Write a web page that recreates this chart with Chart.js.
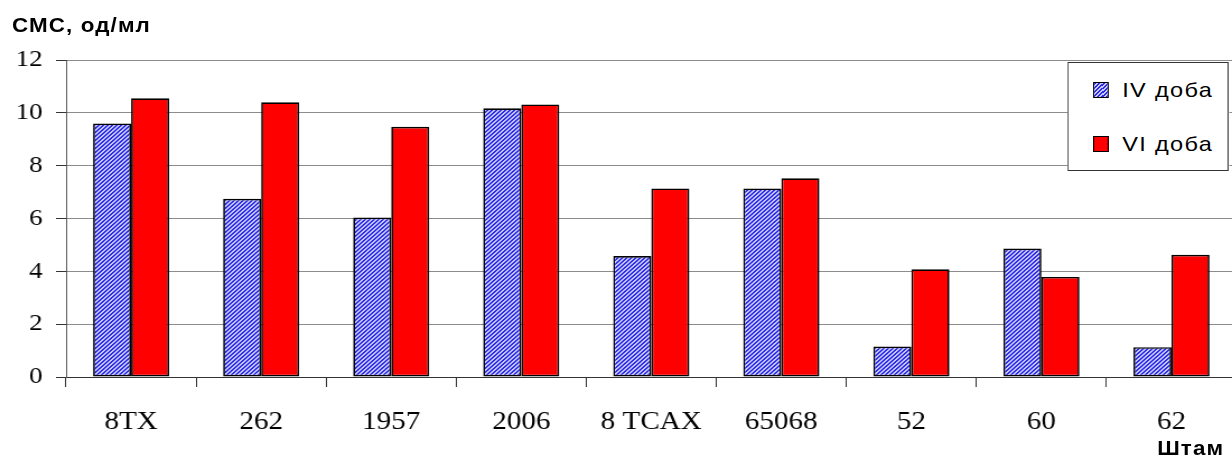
<!DOCTYPE html>
<html>
<head>
<meta charset="utf-8">
<script src="https://cdn.jsdelivr.net/npm/chart.js@4/dist/chart.umd.min.js"></script>
<style>
  html, body { margin:0; padding:0; background:#fff; overflow:hidden; width:1232px; height:457px; }
  #stage { position:absolute; left:0; top:0; width:1104px; height:457px; transform:scaleX(1.12); transform-origin:0 0; }
  #chart { position:absolute; left:0; top:0; }
  #ytitle { position:absolute; left:10.7px; top:15px; font-family:"Liberation Sans", Arial, sans-serif; font-weight:bold; font-size:20px; letter-spacing:1px; line-height:20px; white-space:nowrap; color:#000; }
  #xtitle { position:absolute; right:11px; top:438px; font-family:"Liberation Sans", Arial, sans-serif; font-weight:bold; font-size:20px; letter-spacing:1px; line-height:20px; white-space:nowrap; color:#000; }
  #legend { position:absolute; left:953px; top:62px; width:144px; height:109px; border:1px solid #333; background:#fff; box-sizing:border-box; }
  .item { position:absolute; left:22px; height:20px; font-family:"Liberation Sans", Arial, sans-serif; font-size:21px; letter-spacing:1.2px; line-height:20px; white-space:nowrap; color:#000; }
  .sw { position:absolute; left:0; top:2px; width:14px; height:16px; border:1px solid #000; box-sizing:border-box; }
  .lbl { position:absolute; left:26px; top:0; }
</style>
</head>
<body>
<div id="stage">
  <canvas id="chart" width="1104" height="457"></canvas>
  <div id="ytitle">СМС, од/мл</div>
  <div id="xtitle">Штам</div>
  <div id="legend"></div>
</div>
<script>
const categories = ['8TX', '262', '1957', '2006', '8 TCAX', '65068', '52', '60', '62'];
const seriesNames = ['IV доба', 'VI доба'];
const ivValues = [9.60, 6.75, 6.04, 10.17, 4.58, 7.14, 1.15, 4.86, 1.13];
const viValues = [10.55, 10.40, 9.47, 10.32, 7.14, 7.52, 4.08, 3.79, 4.63];
const yTicks = [0, 2, 4, 6, 8, 10, 12];

function makeHatch() {
  const n = 4;
  const c = document.createElement('canvas');
  c.width = n; c.height = n;
  const ctx = c.getContext('2d');
  const img = ctx.createImageData(n, n);
  for (let y = 0; y < n; y++) {
    for (let x = 0; x < n; x++) {
      const dark = ((x + y) % n) < 2;
      const i = (y * n + x) * 4;
      if (dark) { img.data[i] = 44; img.data[i+1] = 44; img.data[i+2] = 230; }
      else { img.data[i] = 200; img.data[i+1] = 200; img.data[i+2] = 255; }
      img.data[i+3] = 255;
    }
  }
  ctx.putImageData(img, 0, 0);
  return document.getElementById('chart').getContext('2d').createPattern(c, 'repeat');
}
const serif = '"Liberation Serif", "Times New Roman", "DejaVu Serif", serif';

// HTML legend from the dataset labels
const legend = document.getElementById('legend');
const swatchBg = [
  'repeating-linear-gradient(135deg, #2c2ce6 0 1.4px, #c8c8ff 1.4px 2.8px)',
  '#ff0000'
];
const itemTops = [17, 71];
seriesNames.forEach((name, i) => {
  const it = document.createElement('div');
  it.className = 'item';
  it.style.top = itemTops[i] + 'px';
  const sw = document.createElement('div');
  sw.className = 'sw';
  sw.style.background = swatchBg[i];
  const lb = document.createElement('div');
  lb.className = 'lbl';
  lb.textContent = name;
  it.appendChild(sw); it.appendChild(lb);
  legend.appendChild(it);
});

function build() {
  const hatch = makeHatch();
  new Chart(document.getElementById('chart'), {
    type: 'bar',
    data: {
      labels: categories,
      datasets: [
        { label: seriesNames[0], data: ivValues, backgroundColor: hatch, borderColor: '#000', borderWidth: 1.7, borderSkipped: false },
        { label: seriesNames[1], data: viValues, backgroundColor: '#ff0000', borderColor: '#000', borderWidth: 1.7, borderSkipped: false }
      ]
    },
    options: {
      responsive: false,
      animation: false,
      layout: { padding: { top: 60, right: 0, bottom: 0, left: 0 } },
      plugins: { legend: { display: false }, tooltip: { enabled: false } },
      datasets: { bar: { categoryPercentage: 0.585, barPercentage: 1.0 } },
      scales: {
        x: {
          offset: true,
          grid: { drawOnChartArea: false, drawTicks: true, tickLength: 10, tickColor: '#333', offset: true },
          border: { color: '#333', width: 1 },
          ticks: { color: '#000', font: { family: serif, size: 26 }, padding: 20, maxRotation: 0, autoSkip: false },
          afterFit: s => { s.height = 80; }
        },
        y: {
          min: 0, max: 12,
          afterBuildTicks: s => { s.ticks = yTicks.map(v => ({ value: v })); },
          grid: { color: '#8c8c8c', lineWidth: 1, tickLength: 9, tickColor: '#333' },
          border: { color: '#555', width: 1 },
          ticks: { color: '#000', font: { family: serif, size: 24 }, padding: 12 },
          afterFit: s => { s.width = 59; }
        }
      }
    }
  });
}

const loads = [
  document.fonts.load('26px "Liberation Serif"'),
  document.fonts.load('21px "Liberation Sans"'),
  document.fonts.load('bold 20px "Liberation Sans"')
];
Promise.all(loads).then(build, build);
</script>
</body>
</html>
